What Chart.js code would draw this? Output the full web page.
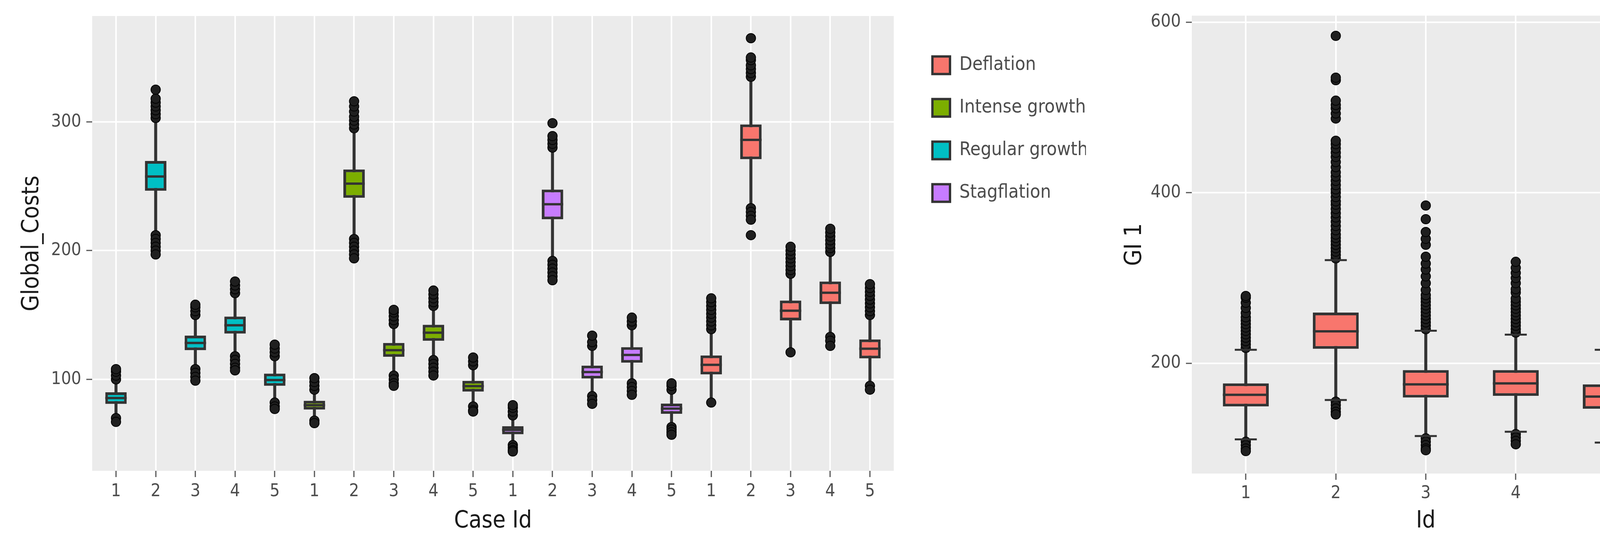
<!DOCTYPE html>
<html>
<head>
<meta charset="utf-8">
<title>Global_Costs by Case Id and GI 1 by Id</title>
<script src="https://cdn.jsdelivr.net/npm/chart.js@4.4.1/dist/chart.umd.min.js"></script>
<style>
  html, body { margin: 0; padding: 0; background: #fff; }
  body { width: 4290px; height: 1400px; position: relative; overflow: hidden; }
  .panel { position: absolute; top: 0; height: 1400px; }
  #costsPanel { left: 0; width: 2860px; }
  #giPanel { left: 2860px; width: 1430px; }
</style>
</head>
<body>
<div class="panel" id="costsPanel"><canvas id="costsChart"></canvas></div>
<div class="panel" id="giPanel"><canvas id="giChart"></canvas></div>
<script>
Chart.defaults.font.family = "'DejaVu Sans Condensed', 'Liberation Sans', sans-serif";
Chart.defaults.color = '#4d4d4d';

// ---- left panel: Global_Costs, 4 scenarios x 5 cases (plot order) ----
const caseIds = ['1', '2', '3', '4', '5'];
const scenarios = ['Regular growth', 'Intense growth', 'Stagflation', 'Deflation'];
const legendNames = ['Deflation', 'Intense growth', 'Regular growth', 'Stagflation'];
const costTicks = [100, 200, 300];

const costQ1     = [81, 246.5, 122.7, 135.6, 95, 76.6, 241, 117.5, 130, 90.5, 57.4, 224.3, 100.7, 113, 73.2, 103.9, 271, 145.8, 158.5, 116.3];
const costMedian = [85.5, 257.6, 128.3, 142, 99.5, 80, 252, 122.7, 136.3, 94.8, 60.8, 236, 105.7, 119, 77.3, 111.3, 286, 153.3, 167.3, 123.8];
const costQ3     = [90, 269.6, 134, 148.8, 104.5, 83.4, 263, 128.3, 142.4, 98.9, 63.7, 247.4, 110.7, 125, 81.2, 118.6, 298, 161.2, 176, 131];
const costLow    = [71.7, 213, 109, 119, 83, 69.4, 210, 103.4, 116, 80.7, 50.6, 193, 87.5, 97.7, 63.7, 83, 233.8, 122.7, 134, 96];
const costHigh   = [99, 302, 148.8, 165.8, 116, 91, 294, 140.8, 155.6, 109, 70.5, 279, 123.8, 140.8, 91, 137.4, 333.6, 180.5, 198.6, 148.8];
const costOutliers = [
  [100, 103, 106, 108, 70, 67],
  [303, 306, 309, 312, 315, 318, 325, 212, 209, 206, 203, 200, 197],
  [150, 153, 156, 158, 108, 105, 102, 99],
  [167, 170, 173, 176, 118, 115, 112, 109, 107],
  [118, 121, 124, 127, 82, 79, 77],
  [92, 95, 98, 101, 68, 66],
  [295, 298, 301, 304, 308, 312, 316, 209, 206, 203, 200, 197, 194],
  [143, 146, 149, 152, 154, 103, 100, 97, 95],
  [157, 160, 163, 166, 169, 115, 112, 109, 106, 103],
  [111, 114, 117, 79, 76, 75],
  [72, 75, 78, 80, 49, 47, 45, 44],
  [280, 283, 286, 289, 299, 192, 189, 186, 183, 180, 177],
  [126, 129, 134, 87, 84, 81],
  [142, 145, 148, 97, 94, 91, 88],
  [92, 95, 97, 63, 61, 59, 57],
  [139, 142, 145, 148, 151, 154, 157, 160, 163, 82],
  [335, 338, 341, 344, 348, 350, 365, 233, 230, 227, 224, 212],
  [182, 185, 188, 191, 194, 197, 200, 203, 121],
  [199, 202, 205, 208, 211, 214, 217, 133, 130, 126],
  [150, 153, 156, 159, 162, 165, 168, 171, 174, 95, 92]
];

// ---- right panel: GI 1 by Id ----
const idLabels = ['1', '2', '3', '4', '5'];
const giTicks = [200, 400, 600];
const giQ1     = [149.4, 217, 159.8, 161.8, 146.7];
const giMedian = [163, 237.5, 175.3, 176.4, 161];
const giQ3     = [176.4, 259.5, 192, 192, 175.3];
const giLow    = [110.8, 157, 114.7, 119.7, 107];
const giHigh   = [215.8, 321, 238.2, 233.6, 215.8];
const giOutliers = [
  [218, 222, 226, 230, 234, 238, 242, 246, 250, 254, 259, 265, 271, 277, 279, 108, 104, 100, 97],
  [323, 327, 331, 335, 339, 343, 347, 351, 356, 361, 366, 371, 376, 381, 386, 390, 395, 400, 404, 409,
   414, 419, 424, 430, 436, 442, 447, 452, 457, 461, 487, 493, 499, 503, 508, 532, 535, 584, 155, 151, 147, 143, 140],
  [240, 244, 248, 252, 256, 260, 264, 268, 272, 276, 280, 286, 294, 302, 310, 317, 325, 339, 346, 354, 369, 385, 112, 108, 104, 100, 98],
  [236, 240, 244, 248, 252, 256, 260, 264, 268, 272, 276, 283, 287, 294, 300, 306, 312, 319, 117, 113, 109, 105],
  [218, 222, 226, 230, 234, 238, 242, 246, 250, 255, 259, 267, 286, 292, 306, 313, 319, 329, 335, 370, 104, 100, 97, 94]
];

const fills = {
  'Deflation': '#F8766D',
  'Intense growth': '#7CAE00',
  'Regular growth': '#00BFC4',
  'Stagflation': '#C77CFF'
};

const caseLabels = scenarios.flatMap(() => caseIds);
const caseColors = scenarios.flatMap(s => caseIds.map(() => fills[s]));

// grey panel behind the plot, like ggplot
const panelBackground = {
  id: 'panelBackground',
  beforeDraw(chart, args, opts) {
    const { ctx, chartArea: a } = chart;
    ctx.save();
    ctx.fillStyle = opts.color;
    ctx.fillRect(a.left, a.top, a.right - a.left, a.bottom - a.top);
    ctx.restore();
  }
};

// median line across each box, optional whisker caps
const boxLines = {
  id: 'boxLines',
  afterDatasetsDraw(chart, args, opts) {
    const { ctx } = chart;
    const yScale = chart.scales.y;
    chart.data.datasets.forEach((ds, di) => {
      if (!ds.medians) return;
      chart.getDatasetMeta(di).data.forEach((bar, i) => {
        const { x, width } = bar.getProps(['x', 'width'], true);
        ctx.save();
        ctx.strokeStyle = opts.color;
        ctx.lineWidth = opts.medianWidth;
        const ym = yScale.getPixelForValue(ds.medians[i]);
        ctx.beginPath();
        ctx.moveTo(x - width / 2, ym);
        ctx.lineTo(x + width / 2, ym);
        ctx.stroke();
        if (ds.caps) {
          const half = width * opts.capRatio / 2;
          ctx.lineWidth = opts.capWidth;
          ds.caps[i].forEach(v => {
            const yc = yScale.getPixelForValue(v);
            ctx.beginPath();
            ctx.moveTo(x - half, yc);
            ctx.lineTo(x + half, yc);
            ctx.stroke();
          });
        }
        ctx.restore();
      });
    });
  }
};

function boxDatasets(q1, med, q3, lo, hi, outliers, colors, boxPct, withCaps) {
  return [
    {
      label: 'box',
      data: q1.map((v, i) => ({ x: i, y: [v, q3[i]] })),
      medians: med,
      caps: withCaps ? lo.map((v, i) => [v, hi[i]]) : null,
      backgroundColor: colors,
      borderColor: '#333333',
      borderWidth: 7,
      borderSkipped: false,
      grouped: false,
      categoryPercentage: 1,
      barPercentage: boxPct,
      order: 0
    },
    {
      type: 'scatter',
      label: 'outliers',
      data: outliers.flatMap((vals, i) => vals.map(v => ({ x: i, y: v }))),
      pointRadius: 12,
      pointBackgroundColor: '#1f1f1f',
      pointBorderColor: '#000000',
      pointBorderWidth: 2,
      order: 1
    },
    {
      label: 'whisker',
      data: lo.map((v, i) => ({ x: i, y: [v, hi[i]] })),
      backgroundColor: '#333333',
      borderWidth: 0,
      barThickness: 7,
      grouped: false,
      order: 2
    }
  ];
}

function axisX(labels, title, height, labelPad) {
  return {
    type: 'linear',
    offset: false,
    min: -0.6,
    max: labels.length - 0.4,
    afterBuildTicks: s => { s.ticks = labels.map((_, i) => ({ value: i })); },
    afterFit: s => { s.height = height; },
    grid: { offset: false, color: '#ffffff', lineWidth: 4, tickColor: '#555555', tickLength: 16, tickWidth: 3 },
    border: { display: false },
    ticks: { autoSkip: false, maxRotation: 0, padding: labelPad, font: { size: 45 }, color: '#4d4d4d',
             callback: v => labels[v] },
    title: { display: true, text: title, color: '#1a1a1a', font: { size: 60 }, padding: { top: 0, bottom: 30 } }
  };
}

function axisY(ticks, min, max, title, width, titlePad) {
  return {
    min: min,
    max: max,
    afterBuildTicks: s => { s.ticks = ticks.map(v => ({ value: v })); },
    afterFit: s => { s.width = width; },
    grid: { color: '#ffffff', lineWidth: 4, tickColor: '#555555', tickLength: 15, tickWidth: 3 },
    border: { display: false },
    ticks: { padding: 13, font: { size: 45 }, color: '#4d4d4d' },
    title: { display: true, text: title, color: '#1a1a1a', font: { size: 60 }, padding: { top: titlePad, bottom: 0 } }
  };
}

new Chart(document.getElementById('costsChart'), {
  type: 'bar',
  data: { datasets: boxDatasets(costQ1, costMedian, costQ3, costLow, costHigh, costOutliers, caseColors, 0.54, false) },
  plugins: [panelBackground, boxLines],
  options: {
    responsive: true,
    maintainAspectRatio: false,
    animation: false,
    events: [],
    layout: { padding: { top: 41, right: 80, bottom: 0, left: 0 } },
    scales: {
      x: axisX(caseLabels, 'Case Id', 195, 10),
      y: axisY(costTicks, 29, 382.2, 'Global_Costs', 236, 46),
      legendGap: {
        type: 'linear', position: 'right', display: true,
        grid: { display: false, drawTicks: false }, border: { display: false },
        ticks: { display: false },
        afterFit: s => { s.width = 38; }
      }
    },
    plugins: {
      panelBackground: { color: '#ebebeb' },
      boxLines: { color: '#333333', medianWidth: 6, capWidth: 5, capRatio: 0.48 },
      tooltip: { enabled: false },
      legend: {
        position: 'right',
        align: 'start',
        fullSize: false,
        maxWidth: 454,
        onClick: () => {},
        title: { display: true, text: '', padding: { top: 31, bottom: 0 }, font: { size: 10, lineHeight: 1 } },
        labels: {
          boxWidth: 45,
          boxHeight: 45,
          padding: 61,
          color: '#1a1a1a',
          font: { size: 48 },
          generateLabels: () => legendNames.map(name => ({
            text: name, fillStyle: fills[name], strokeStyle: '#333333', lineWidth: 6, hidden: false, datasetIndex: 0
          }))
        }
      }
    }
  }
});

new Chart(document.getElementById('giChart'), {
  type: 'bar',
  data: { datasets: boxDatasets(giQ1, giMedian, giQ3, giLow, giHigh, giOutliers, fills['Deflation'], 0.51, true) },
  plugins: [panelBackground, boxLines],
  options: {
    responsive: true,
    maintainAspectRatio: false,
    animation: false,
    events: [],
    layout: { padding: { top: 32, right: 41, bottom: 0, left: 0 } },
    scales: {
      x: axisX(idLabels, 'Id', 188, 8),
      y: axisY(giTicks, 70.7, 607.7, 'GI 1', 191, 9)
    },
    plugins: {
      panelBackground: { color: '#ebebeb' },
      boxLines: { color: '#333333', medianWidth: 6, capWidth: 5, capRatio: 0.48 },
      tooltip: { enabled: false },
      legend: { display: false }
    }
  }
});
</script>
</body>
</html>
